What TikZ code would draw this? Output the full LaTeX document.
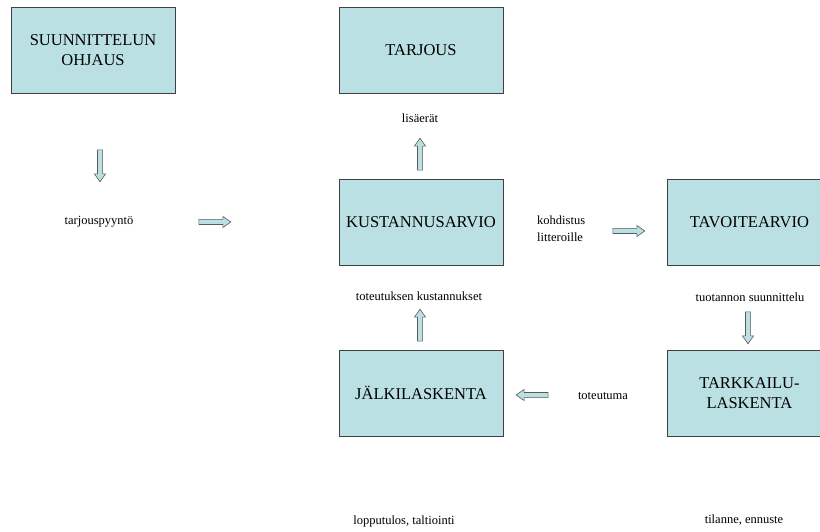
\documentclass[tikz,border=0pt]{standalone}
\usepackage{fontspec}
\setmainfont{Liberation Serif}
\usetikzlibrary{shapes.arrows}
\definecolor{boxfill}{RGB}{187,224,227}
\definecolor{boxline}{RGB}{64,64,64}
\definecolor{arrline}{RGB}{90,90,90}
\tikzset{
  procbox/.style={draw=boxline, line width=0.9pt, fill=boxfill, minimum width=164pt, minimum height=86pt, inner sep=0pt, align=center, font=\fontsize{16.5}{20}\selectfont},
  lbl/.style={inner sep=0pt, font=\fontsize{12.5}{17}\selectfont},
  blockarrow/.style={single arrow, draw=arrline, line width=0.6pt, fill=boxfill, inner sep=0pt, text width=0pt, text height=4.5pt, text depth=0pt, minimum height=32pt, minimum width=11pt, single arrow head extend=3pt, single arrow tip angle=70}
}
\begin{document}
\begin{tikzpicture}[x=1pt,y=-1pt]
\useasboundingbox (0,0) rectangle (820,532);
\clip (0,0) rectangle (820,532);
\node[procbox] (ohjaus) at (93,50) {SUUNNITTELUN\\OHJAUS};
\node[procbox] (tarjous) at (421,50) {TARJOUS};
\node[procbox] (kust) at (421,222) {KUSTANNUSARVIO};
\node[procbox, anchor=west] (tavoite) at (667,222) {TAVOITEARVIO};
\node[procbox] (jalki) at (421,393) {JÄLKILASKENTA};
\node[procbox, anchor=west] (tarkkailu) at (667,393) {TARKKAILU-\\LASKENTA};

\node[lbl] (tpyynto) at (99,222) {tarjouspyyntö};
\node[lbl] (lisaerat) at (420,118) {lisäerät};
\node[lbl, align=left, anchor=west] (kohd) at (537,229) {kohdistus\\litteroille};
\node[lbl] (tuot) at (750,297) {tuotannon suunnittelu};
\node[lbl] (totk) at (419,296) {toteutuksen kustannukset};
\node[lbl] (toteutuma) at (603,396) {toteutuma};
\node[lbl] (loppu) at (404,521) {lopputulos, taltiointi};
\node[lbl] (tilanne) at (744,520) {tilanne, ennuste};

\node[blockarrow, rotate=-90] (a1) at (100,164) {};
\node[blockarrow] (a2) at (213,222) {};
\node[blockarrow, rotate=90] (a3) at (420,156) {};
\node[blockarrow] (a4) at (627,231) {};
\node[blockarrow, rotate=-90] (a5) at (748,326) {};
\node[blockarrow, rotate=90] (a6) at (420,327) {};
\node[blockarrow, rotate=180] (a7) at (534,395) {};
\end{tikzpicture}
\end{document}
